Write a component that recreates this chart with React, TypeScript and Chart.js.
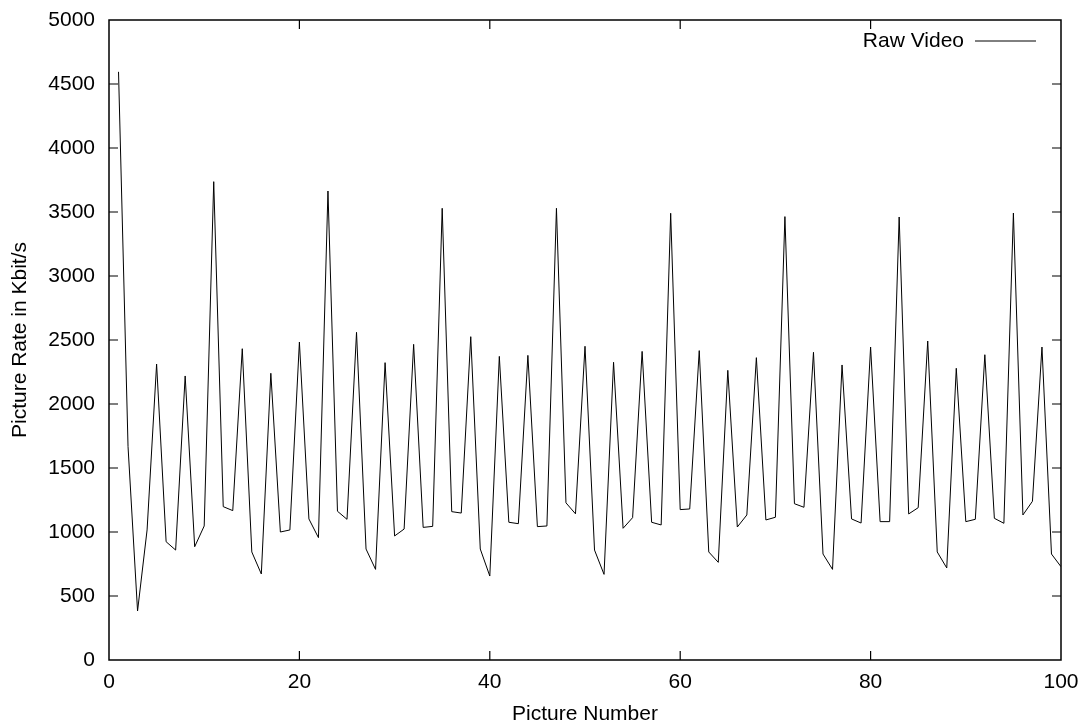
import React, { useEffect, useRef } from "react";
import { Chart, registerables } from "chart.js";

Chart.register(...registerables);

const pictureNumbers = [
  1, 2, 3, 4, 5, 6, 7, 8, 9, 10, 11, 12, 13, 14, 15, 16, 17, 18, 19, 20,
  21, 22, 23, 24, 25, 26, 27, 28, 29, 30, 31, 32, 33, 34, 35, 36, 37, 38, 39, 40,
  41, 42, 43, 44, 45, 46, 47, 48, 49, 50, 51, 52, 53, 54, 55, 56, 57, 58, 59, 60,
  61, 62, 63, 64, 65, 66, 67, 68, 69, 70, 71, 72, 73, 74, 75, 76, 77, 78, 79, 80,
  81, 82, 83, 84, 85, 86, 87, 88, 89, 90, 91, 92, 93, 94, 95, 96, 97, 98, 99, 100,
];

const rawVideoRates = [
  4595, 1667, 383, 1016, 2312, 924, 859, 2219, 885, 1047,
  3737, 1198, 1167, 2432, 844, 672, 2240, 1000, 1016, 2484,
  1102, 956, 3664, 1162, 1099, 2560, 867, 708, 2323, 969,
  1023, 2466, 1036, 1044, 3529, 1159, 1148, 2526, 867, 656,
  2372, 1076, 1065, 2380, 1042, 1047, 3529, 1228, 1142, 2451,
  859, 669, 2326, 1029, 1112, 2411, 1076, 1055, 3490, 1175,
  1180, 2417, 844, 763, 2263, 1039, 1133, 2362, 1094, 1115,
  3464, 1221, 1193, 2404, 828, 708, 2305, 1102, 1070, 2445,
  1081, 1081, 3461, 1141, 1190, 2492, 844, 719, 2279, 1081,
  1099, 2385, 1107, 1068, 3492, 1133, 1240, 2445, 828, 729,
];

const seriesLabel = "Raw Video";
const xTitle = "Picture Number";
const yTitle = "Picture Rate in Kbit/s";
const xMin = 0;
const xMax = 100;
const xStep = 20;
const yMin = 0;
const yMax = 5000;
const yStep = 500;

const FONT = "'Liberation Sans', Arial, Helvetica, sans-serif";
const FONT_SIZE = 21;

const framePlugin = {
  id: "gnuplotFrame",
  afterDatasetsDraw(chart: any) {
    const { ctx, chartArea } = chart;
    const { left, right, top, bottom } = chartArea;
    const xs = chart.scales.x;
    const ys = chart.scales.y;
    const tick = 9;
    ctx.save();
    ctx.strokeStyle = "#000";
    ctx.lineWidth = 1.5;
    ctx.beginPath();
    ctx.rect(left, top, right - left, bottom - top);
    ctx.stroke();
    ctx.lineWidth = 1.2;
    ctx.beginPath();
    xs.ticks.forEach((t: any) => {
      const px = xs.getPixelForValue(t.value);
      if (px <= left + 1 || px >= right - 1) return;
      ctx.moveTo(px, bottom);
      ctx.lineTo(px, bottom - tick);
      ctx.moveTo(px, top);
      ctx.lineTo(px, top + tick);
    });
    ys.ticks.forEach((t: any) => {
      const py = ys.getPixelForValue(t.value);
      if (py <= top + 1 || py >= bottom - 1) return;
      ctx.moveTo(left, py);
      ctx.lineTo(left + tick, py);
      ctx.moveTo(right, py);
      ctx.lineTo(right - tick, py);
    });
    ctx.stroke();

    // gnuplot-style key: text right-aligned, sample line to its right
    const ds = chart.data.datasets[0];
    const lineEnd = right - 25;
    const lineStart = lineEnd - 61;
    const ky = top + 21;
    ctx.font = `${FONT_SIZE}px ${FONT}`;
    ctx.fillStyle = "#000";
    ctx.textAlign = "right";
    ctx.textBaseline = "middle";
    ctx.fillText(ds.label, lineStart - 11, ky);
    ctx.strokeStyle = ds.borderColor;
    ctx.lineWidth = 1;
    ctx.beginPath();
    ctx.moveTo(lineStart, ky);
    ctx.lineTo(lineEnd, ky);
    ctx.stroke();
    ctx.restore();
  },
};

const zeroPadding = (scale: any) => {
  scale.paddingTop = 0;
  scale.paddingBottom = 0;
  scale.paddingLeft = 0;
  scale.paddingRight = 0;
};

export default function App() {
  const canvasRef = useRef<HTMLCanvasElement | null>(null);

  useEffect(() => {
    const canvas = canvasRef.current;
    if (!canvas) return;
    const points = pictureNumbers.map((n, i) => ({ x: n, y: rawVideoRates[i] }));
    const chart = new Chart(canvas, {
      type: "line",
      data: {
        datasets: [
          {
            label: seriesLabel,
            data: points,
            borderColor: "#000",
            borderWidth: 1,
            pointRadius: 0,
            tension: 0,
            fill: false,
          },
        ],
      },
      options: {
        animation: false,
        responsive: false,
        devicePixelRatio: 1,
        layout: { padding: { top: 20, right: 24, left: 0, bottom: 0 } },
        plugins: {
          legend: { display: false },
          tooltip: { enabled: false },
        },
        scales: {
          x: {
            type: "linear",
            min: xMin,
            max: xMax,
            grid: { display: false, drawTicks: false },
            border: { display: false },
            ticks: {
              stepSize: xStep,
              color: "#000",
              padding: 10,
              maxRotation: 0,
              font: { family: FONT, size: FONT_SIZE },
              callback: (v: any) => String(v),
            },
            title: {
              display: true,
              text: xTitle,
              color: "#000",
              font: { family: FONT, size: FONT_SIZE },
              padding: { top: 0, bottom: 0 },
            },
            afterFit: (scale: any) => {
              scale.height = 67;
              zeroPadding(scale);
            },
          },
          y: {
            type: "linear",
            min: yMin,
            max: yMax,
            grid: { display: false, drawTicks: false },
            border: { display: false },
            ticks: {
              stepSize: yStep,
              color: "#000",
              padding: 14,
              font: { family: FONT, size: FONT_SIZE },
              callback: (v: any) => String(v),
            },
            title: {
              display: true,
              text: yTitle,
              color: "#000",
              font: { family: FONT, size: FONT_SIZE },
              padding: { top: 8, bottom: 0 },
            },
            afterFit: (scale: any) => {
              scale.width = 109;
              zeroPadding(scale);
            },
          },
        },
      },
      plugins: [framePlugin],
    });
    return () => chart.destroy();
  }, []);

  return (
    <div style={{ position: "absolute", left: 0, top: 0, width: 1085, height: 727, background: "#fff" }}>
      <canvas ref={canvasRef} width={1085} height={727} style={{ display: "block" }} />
    </div>
  );
}
